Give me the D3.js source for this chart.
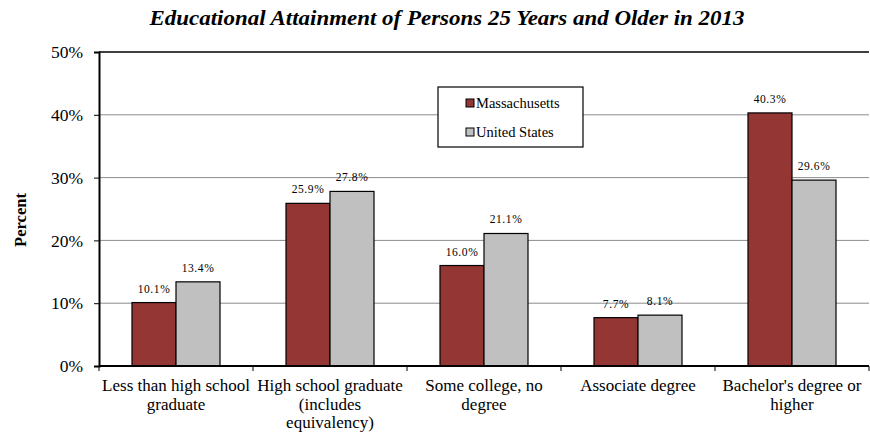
<!DOCTYPE html>
<html><head><meta charset="utf-8">
<script src="https://cdn.jsdelivr.net/npm/d3@7"></script>
<style>body{margin:0;background:#fff}svg{display:block}</style>
</head><body>
<svg id="c" width="870" height="433"></svg>
<script>
const categories = [
  ["Less than high school", "graduate"],
  ["High school graduate", "(includes", "equivalency)"],
  ["Some college, no", "degree"],
  ["Associate degree"],
  ["Bachelor's degree or", "higher"]
];
const seriesNames = ["Massachusetts", "United States"];
const massachusetts = [10.1, 25.9, 16.0, 7.7, 40.3];
const unitedStates = [13.4, 27.8, 21.1, 8.1, 29.6];
const yTicks = [0, 10, 20, 30, 40, 50];
const colors = ["#943634", "#C0C0C0"];

const svg = d3.select("#c");
const font = "'Liberation Serif', 'Times New Roman', serif";
const L = 99, R = 869, T = 52, B = 366;

const x = d3.scaleBand().domain(d3.range(categories.length)).range([L, R]).paddingInner(0).paddingOuter(0);
const x1 = d3.scaleBand().domain([0, 1]).range([0, x.bandwidth()]).paddingOuter(0.75).paddingInner(0);
const y = d3.scaleLinear().domain([0, 50]).range([B, T]);

// title
svg.append("text").attr("x", 447).attr("y", 25).attr("text-anchor", "middle")
  .attr("font-family", font).attr("font-size", 22).attr("font-weight", "bold").attr("font-style", "italic")
  .attr("textLength", 595).attr("lengthAdjust", "spacingAndGlyphs")
  .text("Educational Attainment of Persons 25 Years and Older in 2013");

// gridlines
svg.append("g").selectAll("line").data(yTicks.filter(d => d > 0 && d < 50)).join("line")
  .attr("x1", L).attr("x2", R).attr("y1", d => y(d)).attr("y2", d => y(d))
  .attr("stroke", "#8c8c8c").attr("stroke-width", 1);
// top border
svg.append("line").attr("x1", L).attr("x2", R).attr("y1", y(50)).attr("y2", y(50)).attr("stroke", "#000").attr("stroke-width", 1.5);

// y axis
const yAxis = svg.append("g").attr("transform", `translate(${L},0)`)
  .call(d3.axisLeft(y).tickValues(yTicks).tickFormat(d => d + "%").tickSize(5).tickPadding(11));
yAxis.select(".domain").attr("stroke", "#000").attr("stroke-width", 2);
yAxis.selectAll("text").attr("font-family", font).attr("font-size", 17.5).attr("fill", "#000");

svg.append("text").attr("transform", "translate(26,220) rotate(-90)").attr("text-anchor", "middle")
  .attr("font-family", font).attr("font-size", 16.5).attr("font-weight", "bold").text("Percent");

// bars
const data = categories.map((c, i) => [massachusetts[i], unitedStates[i]]);
const groups = svg.append("g").selectAll("g").data(data).join("g")
  .attr("transform", (d, i) => `translate(${x(i)},0)`);
groups.selectAll("rect").data(d => d).join("rect")
  .attr("x", (d, j) => x1(j)).attr("width", x1.bandwidth())
  .attr("y", d => y(d)).attr("height", d => B - y(d))
  .attr("fill", (d, j) => colors[j]).attr("stroke", "#000").attr("stroke-width", 1.2);
groups.selectAll("text").data(d => d).join("text")
  .attr("x", (d, j) => x1(j) + x1.bandwidth() / 2).attr("y", d => y(d) - 10)
  .attr("text-anchor", "middle").attr("font-family", font).attr("font-size", 11.5)
  .attr("letter-spacing", 0.6).text(d => d.toFixed(1) + "%");

// x axis
const xAxis = svg.append("g").attr("transform", `translate(0,${B})`);
xAxis.append("line").attr("x1", L).attr("x2", R).attr("stroke", "#000").attr("stroke-width", 2);
xAxis.selectAll("line.t").data(d3.range(categories.length + 1)).join("line").attr("class", "t")
  .attr("x1", i => L + i * x.bandwidth()).attr("x2", i => L + i * x.bandwidth())
  .attr("y1", 0).attr("y2", 5).attr("stroke", "#000");
const xl = svg.append("g").selectAll("text").data(categories).join("text")
  .attr("text-anchor", "middle").attr("font-family", font).attr("font-size", 17);
xl.each(function(lines, i) {
  d3.select(this).selectAll("tspan").data(lines).join("tspan")
    .attr("x", x(i) + x.bandwidth() / 2).attr("y", (l, k) => 391 + k * 18.5).text(l => l);
});

// legend
const lg = svg.append("g");
lg.append("rect").attr("x", 438).attr("y", 87).attr("width", 145).attr("height", 60)
  .attr("fill", "#fff").attr("stroke", "#000").attr("stroke-width", 1.2);
seriesNames.forEach((n, i) => {
  const yy = 104 + i * 29;
  lg.append("rect").attr("x", 466).attr("y", yy - 5).attr("width", 8).attr("height", 8)
    .attr("fill", colors[i]).attr("stroke", "#000").attr("stroke-width", 1);
  lg.append("text").attr("x", 476).attr("y", yy + 4).attr("font-family", font).attr("font-size", 14.5).text(n);
});
</script>
</body></html>
